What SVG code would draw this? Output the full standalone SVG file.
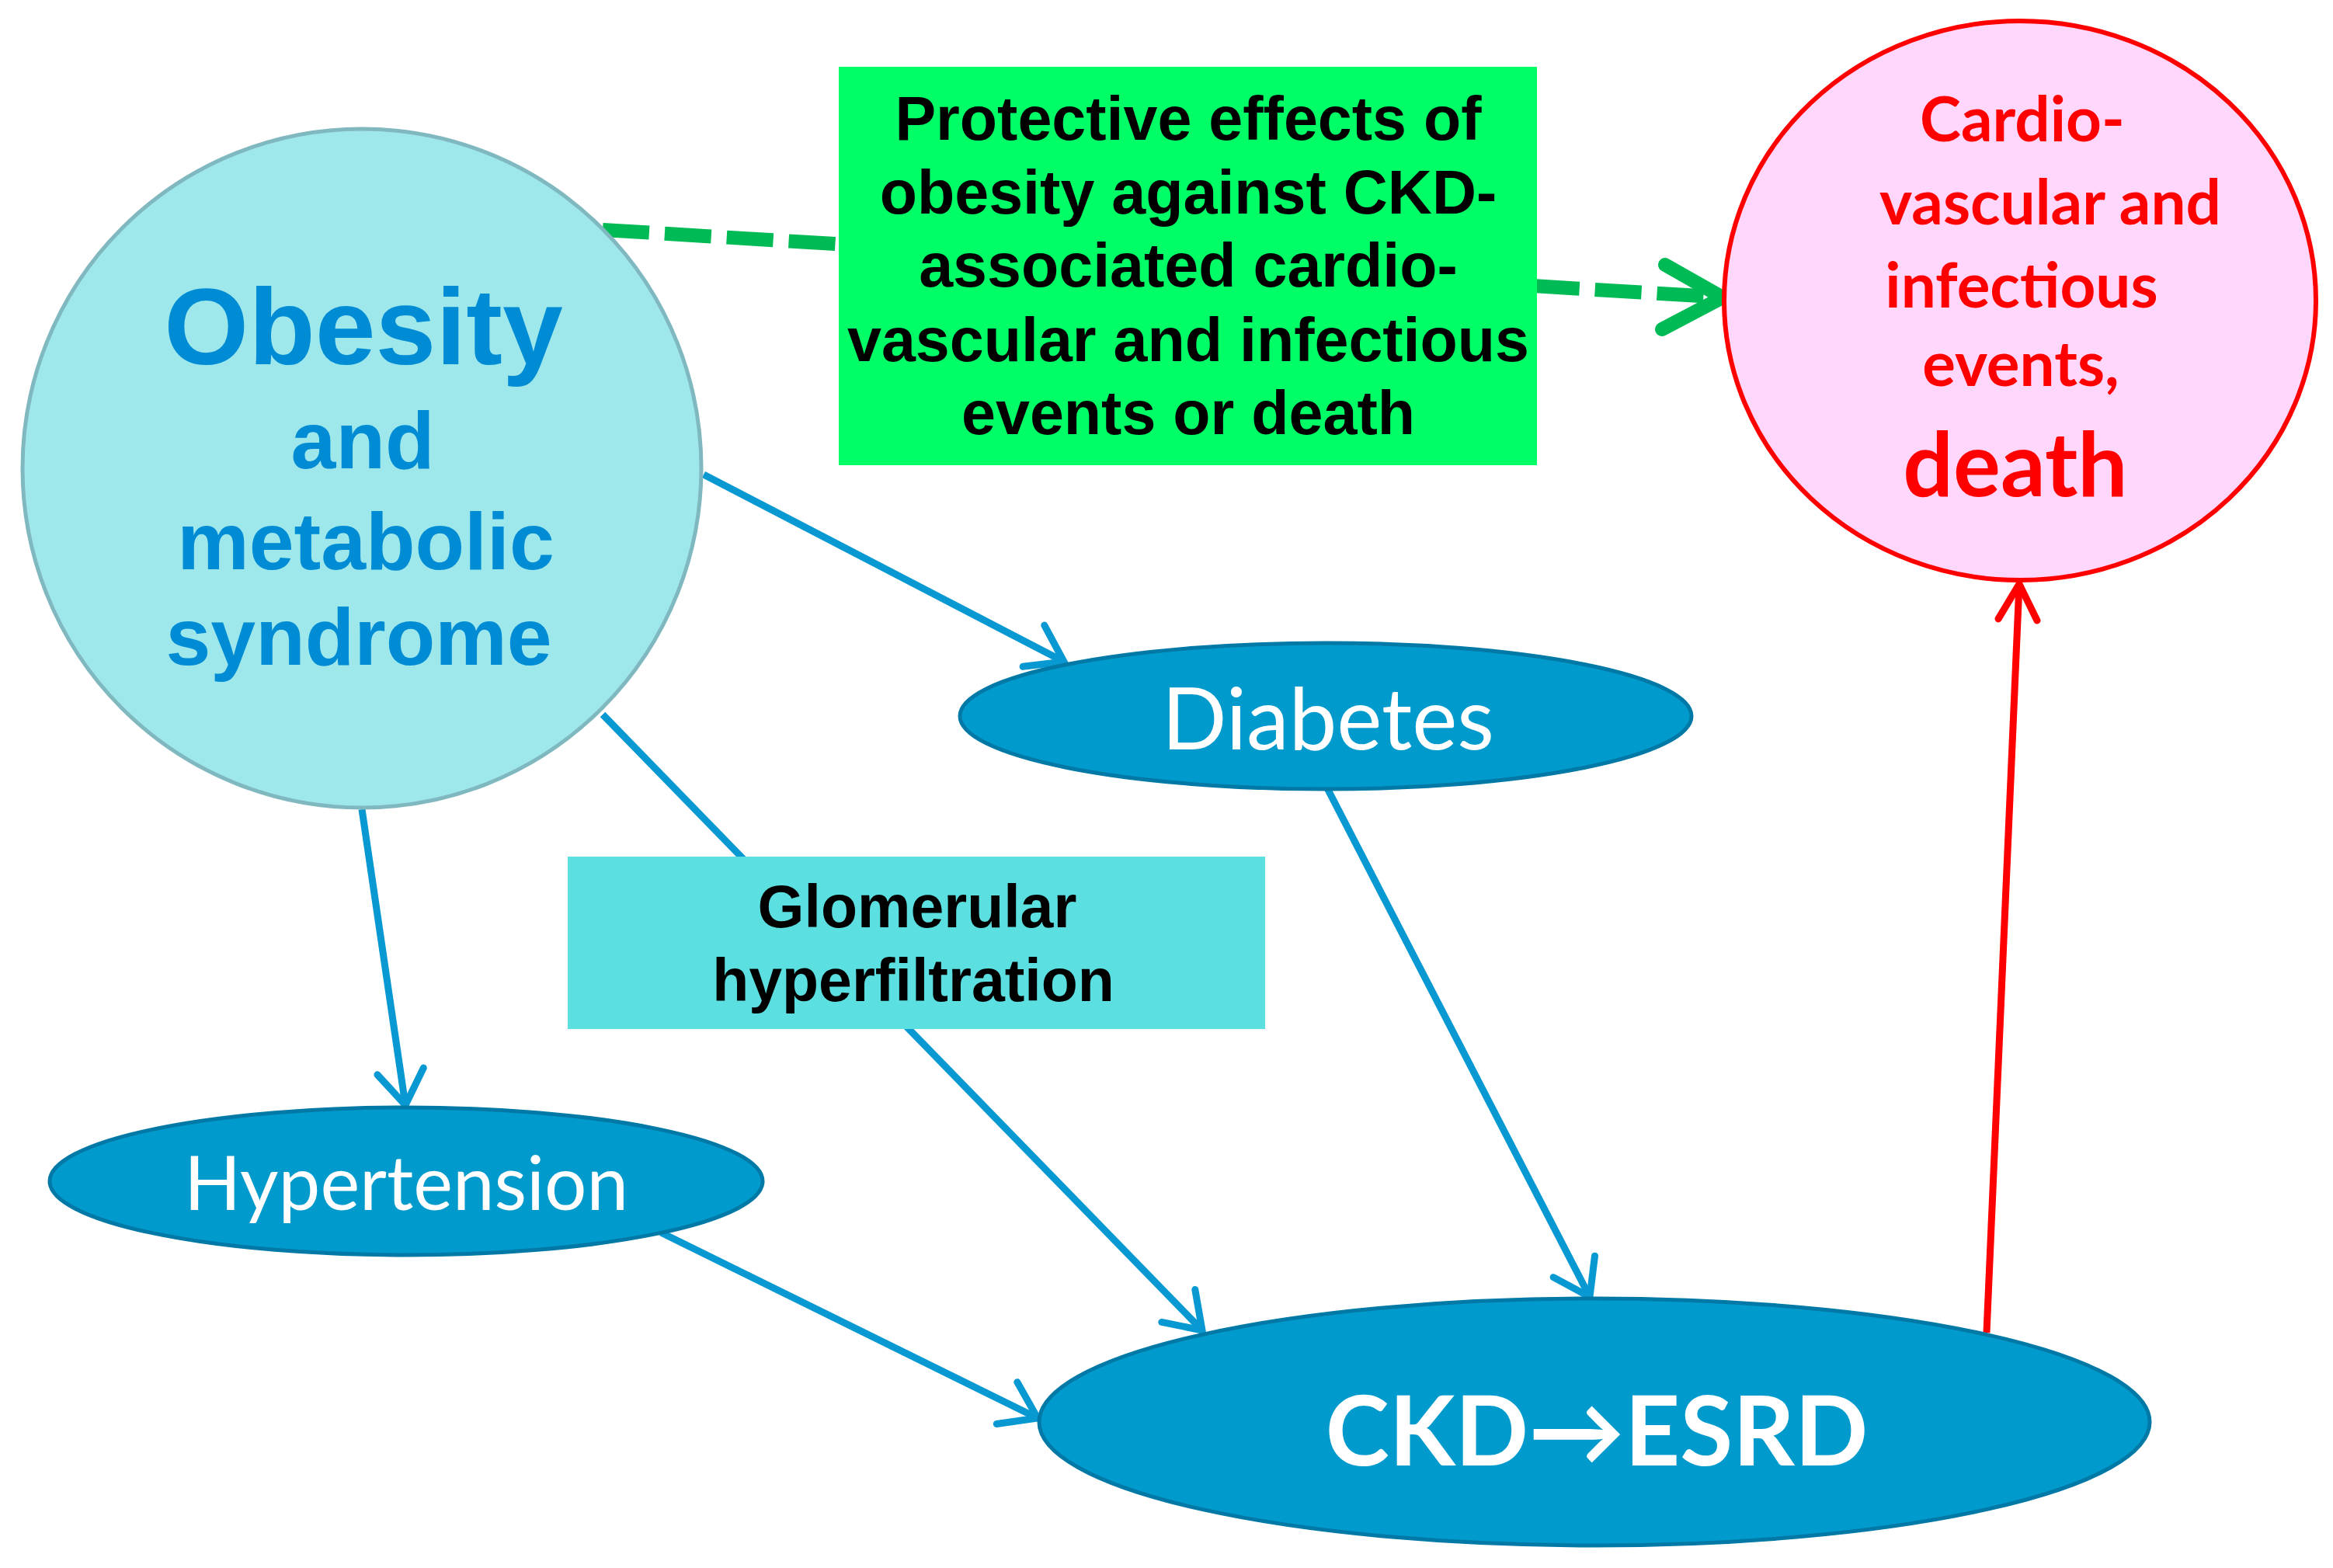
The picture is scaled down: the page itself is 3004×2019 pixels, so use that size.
<svg xmlns="http://www.w3.org/2000/svg" width="3004" height="2019" viewBox="0 0 3004 2019">
<style>
.conn{fill:none;stroke:#0898d2;stroke-width:9}
.ell{fill:#009acd;stroke:#0079a6;stroke-width:5}
.wt{fill:#ffffff;font-family:Lato,"Open Sans",sans-serif;text-anchor:middle}
.ob{fill:#008cd4;font-family:"Liberation Sans",Arial,sans-serif;font-weight:bold;text-anchor:middle}
.bk{fill:#000000;font-family:"Liberation Sans",Arial,sans-serif;font-weight:bold;text-anchor:middle}
.rd{fill:#ff0000;font-family:Lato,"Open Sans",sans-serif;font-weight:bold;text-anchor:middle}
</style>
<defs>
<marker id="ab" markerUnits="userSpaceOnUse" markerWidth="140" markerHeight="140" viewBox="-70 -70 140 140" refX="0" refY="0" orient="auto" overflow="visible">
<path d="M-44,-30 L0,0 L-44,30" fill="none" stroke="#0898d2" stroke-width="9" stroke-linecap="round"/>
</marker>
<marker id="ar" markerUnits="userSpaceOnUse" markerWidth="140" markerHeight="140" viewBox="-70 -70 140 140" refX="0" refY="0" orient="auto" overflow="visible">
<path d="M-46,-25 L0,0 L-46,25" fill="none" stroke="#ff0000" stroke-width="9" stroke-linecap="round"/>
</marker>
</defs>
<rect x="0" y="0" width="3004" height="2019" fill="#ffffff"/>
<g id="connectors">
<line class="conn" x1="906" y1="611" x2="1370" y2="852" marker-end="url(#ab)"/>
<line class="conn" x1="466" y1="1042" x2="522" y2="1423" marker-end="url(#ab)"/>
<line class="conn" x1="776" y1="920" x2="1548" y2="1713" marker-end="url(#ab)"/>
<line class="conn" x1="1709" y1="1015" x2="2047" y2="1670" marker-end="url(#ab)"/>
<line class="conn" x1="851" y1="1587" x2="1336" y2="1826" marker-end="url(#ab)"/>
<line x1="2558" y1="1716" x2="2600" y2="752" stroke="#ff0000" stroke-width="9" marker-end="url(#ar)"/>
<line x1="776" y1="296" x2="2205" y2="382" stroke="#00bb55" stroke-width="18" stroke-dasharray="60 20"/>
<polyline points="2144,341 2218,383 2140,424" fill="none" stroke="#00bb55" stroke-width="18" stroke-linecap="round" stroke-linejoin="miter"/>
</g>
<g id="obesity">
<circle cx="466" cy="603" r="437" fill="#9ee8ec" stroke="#80b8c0" stroke-width="5"/>
<text class="ob" x="468" y="469" font-size="140">Obesity</text>
<text class="ob" x="467" y="603" font-size="104">and</text>
<text class="ob" x="471" y="733" font-size="104">metabolic</text>
<text class="ob" x="462" y="856" font-size="104">syndrome</text>
</g>
<g id="protective">
<rect x="1080" y="86" width="899" height="513" fill="#00ff66"/>
<text class="bk" x="1530" y="180" font-size="79">Protective effects of</text>
<text class="bk" x="1530" y="275" font-size="79">obesity against CKD-</text>
<text class="bk" x="1530" y="369" font-size="79">associated cardio-</text>
<text class="bk" x="1530" y="465" font-size="79">vascular and infectious</text>
<text class="bk" x="1530" y="559" font-size="79">events or death</text>
</g>
<g id="events">
<ellipse cx="2601" cy="387" rx="381" ry="360" fill="#ffd6fc" stroke="#ff0000" stroke-width="6"/>
<text class="rd" x="2604" y="182" font-size="80">Cardio-</text>
<text class="rd" x="2640" y="289" font-size="80">vascular and</text>
<text class="rd" x="2603" y="396" font-size="80">infectious</text>
<text class="rd" x="2602" y="497" font-size="80">events,</text>
<text class="rd" x="2595" y="639" font-size="114">death</text>
</g>
<g id="diabetes">
<ellipse class="ell" cx="1707" cy="922" rx="471" ry="94"/>
<text class="wt" x="1710" y="965" font-size="110">Diabetes</text>
</g>
<g id="glomerular">
<rect x="731" y="1103" width="898" height="222" fill="#5cdfe0"/>
<text class="bk" x="1181" y="1194" font-size="77">Glomerular</text>
<text class="bk" x="1176" y="1289" font-size="77">hyperfiltration</text>
</g>
<g id="hypertension">
<ellipse class="ell" cx="523" cy="1521" rx="459" ry="95"/>
<text class="wt" x="523" y="1558" font-size="96">Hypertension</text>
</g>
<g id="ckd">
<ellipse class="ell" cx="2053" cy="1831" rx="715" ry="159"/>
<text class="wt" x="2056" y="1887" font-size="124" font-weight="bold">CKD→ESRD</text>
</g>
</svg>
